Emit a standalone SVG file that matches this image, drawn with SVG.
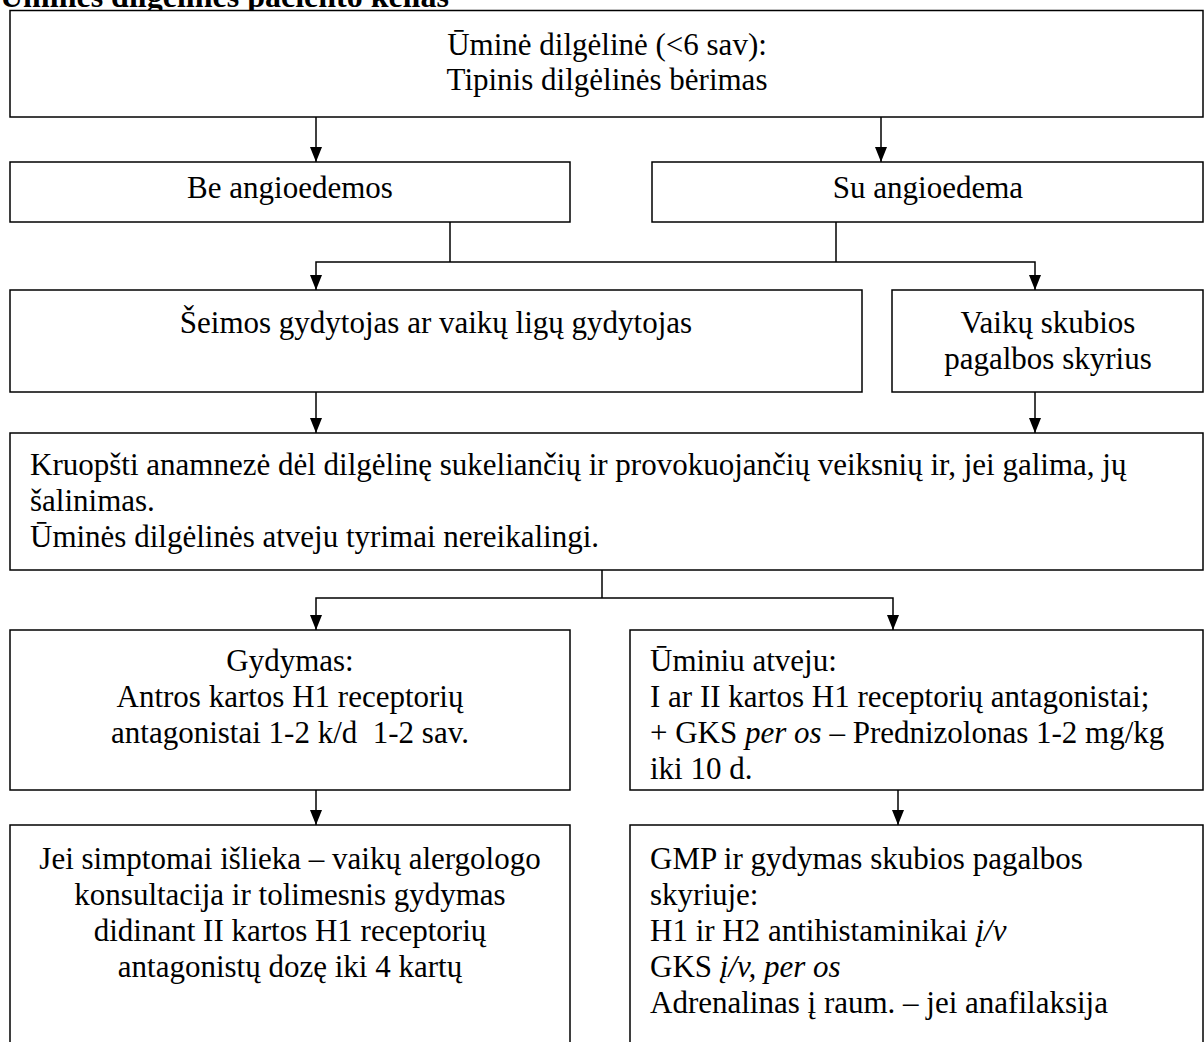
<svg xmlns="http://www.w3.org/2000/svg" width="1204" height="1042" viewBox="0 0 1204 1042">
  <style>
    .box { fill: #fff; stroke: #000; stroke-width: 1.5; }
    .t { font-family: "Liberation Serif", "Times New Roman", serif; font-size: 31px; fill: #000; }
    .c { text-anchor: middle; }
    .title { font-family: "Liberation Serif", "Times New Roman", serif; font-size: 32px; font-weight: bold; fill: #000; }
    .wire { fill: none; stroke: #000; stroke-width: 1.5; }
  </style>
  <defs>
    <!-- filled arrowhead, tip at the end of the line -->
    <marker id="arrow" viewBox="0 0 15 12" refX="15" refY="6" markerWidth="15" markerHeight="12" markerUnits="userSpaceOnUse" orient="auto-start-reverse">
      <path d="M0,0 L15,6 L0,12 Z" fill="#000"/>
    </marker>
  </defs>
  <rect width="1204" height="1042" fill="#fff"/>

  <text class="title" x="0" y="7">Ūminės dilgėlinės paciento kelias</text>

  <g id="connectors">
    <line class="wire" x1="316" y1="117" x2="316" y2="162" marker-end="url(#arrow)"/>
    <line class="wire" x1="881" y1="117" x2="881" y2="162" marker-end="url(#arrow)"/>
    <polyline class="wire" points="450,222 450,262"/>
    <polyline class="wire" points="836,222 836,262"/>
    <polyline class="wire" points="316,290 316,262 1035,262 1035,290" marker-start="url(#arrow)" marker-end="url(#arrow)"/>
    <line class="wire" x1="316" y1="392" x2="316" y2="433" marker-end="url(#arrow)"/>
    <line class="wire" x1="1035" y1="392" x2="1035" y2="433" marker-end="url(#arrow)"/>
    <polyline class="wire" points="602,570 602,598"/>
    <polyline class="wire" points="316,630 316,598 893,598 893,630" marker-start="url(#arrow)" marker-end="url(#arrow)"/>
    <line class="wire" x1="316" y1="790" x2="316" y2="825" marker-end="url(#arrow)"/>
    <line class="wire" x1="898" y1="790" x2="898" y2="825" marker-end="url(#arrow)"/>
  </g>

  <g id="acute-urticaria">
    <rect class="box" x="10" y="10.5" width="1193" height="106.5"/>
    <text class="t c" x="607" y="55">Ūminė dilgėlinė (&lt;6 sav):</text>
    <text class="t c" x="607" y="90">Tipinis dilgėlinės bėrimas</text>
  </g>

  <g id="no-angioedema">
    <rect class="box" x="10" y="162" width="560" height="60"/>
    <text class="t c" x="290" y="198">Be angioedemos</text>
  </g>

  <g id="with-angioedema">
    <rect class="box" x="652" y="162" width="551" height="60"/>
    <text class="t c" x="928" y="198">Su angioedema</text>
  </g>

  <g id="family-doctor">
    <rect class="box" x="10" y="290" width="852" height="102"/>
    <text class="t c" x="436" y="333">Šeimos gydytojas ar vaikų ligų gydytojas</text>
  </g>

  <g id="emergency-dept">
    <rect class="box" x="892" y="290" width="311" height="102"/>
    <text class="t c" x="1048" y="333">Vaikų skubios</text>
    <text class="t c" x="1048" y="369">pagalbos skyrius</text>
  </g>

  <g id="anamnesis">
    <rect class="box" x="10" y="433" width="1193" height="137"/>
    <text class="t" x="30" y="475">Kruopšti anamnezė dėl dilgėlinę sukeliančių ir provokuojančių veiksnių ir, jei galima, jų</text>
    <text class="t" x="30" y="511">šalinimas.</text>
    <text class="t" x="30" y="547">Ūminės dilgėlinės atveju tyrimai nereikalingi.</text>
  </g>

  <g id="treatment">
    <rect class="box" x="10" y="630" width="560" height="160"/>
    <text class="t c" x="290" y="671">Gydymas:</text>
    <text class="t c" x="290" y="707">Antros kartos H1 receptorių</text>
    <text class="t c" x="290" y="743" xml:space="preserve">antagonistai 1-2 k/d  1-2 sav.</text>
  </g>

  <g id="acute-case">
    <rect class="box" x="630" y="630" width="573" height="160"/>
    <text class="t" x="650" y="671">Ūminiu atveju:</text>
    <text class="t" x="650" y="707">I ar II kartos H1 receptorių antagonistai;</text>
    <text class="t" x="650" y="743">+ GKS <tspan font-style="italic">per os</tspan> – Prednizolonas 1-2 mg/kg</text>
    <text class="t" x="650" y="779">iki 10 d.</text>
  </g>

  <g id="allergist">
    <rect class="box" x="10" y="825" width="560" height="230"/>
    <text class="t c" x="290" y="869">Jei simptomai išlieka – vaikų alergologo</text>
    <text class="t c" x="290" y="905">konsultacija ir tolimesnis gydymas</text>
    <text class="t c" x="290" y="941">didinant II kartos H1 receptorių</text>
    <text class="t c" x="290" y="977">antagonistų dozę iki 4 kartų</text>
  </g>

  <g id="emergency-care">
    <rect class="box" x="630" y="825" width="573" height="230"/>
    <text class="t" x="650" y="869">GMP ir gydymas skubios pagalbos</text>
    <text class="t" x="650" y="905">skyriuje:</text>
    <text class="t" x="650" y="941">H1 ir H2 antihistaminikai <tspan font-style="italic">į/v</tspan></text>
    <text class="t" x="650" y="977">GKS <tspan font-style="italic">į/v, per os</tspan></text>
    <text class="t" x="650" y="1013">Adrenalinas į raum. – jei anafilaksija</text>
  </g>
</svg>
